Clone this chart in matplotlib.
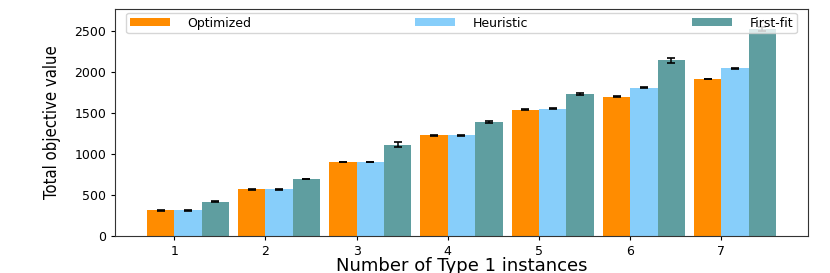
import matplotlib
matplotlib.use("Agg")
import matplotlib.pyplot as plt
import numpy as np

# 数据
n_type1 = [1, 2, 3, 4, 5, 6, 7]
optimized = [313, 569, 902, 1228, 1541, 1699, 1915]
heuristic = [313, 569, 902, 1228, 1553, 1809, 2045]
first_fit = [415, 695, 1113, 1390, 1728, 2143, 2530]
optimized_err = [4, 4, 5, 8, 5, 4, 5]
heuristic_err = [4, 4, 5, 6, 5, 4, 6]
first_fit_err = [5, 5, 30, 8, 12, 30, 25]

fig = plt.figure(figsize=(8.3, 2.73), dpi=100)
ax = fig.add_axes([0.139, 0.136, 0.834, 0.831])

ind = np.array(n_type1, dtype=float)
w = 0.3
err_kw = dict(ecolor="black", capsize=3, elinewidth=1.1, capthick=1.2)
ax.bar(ind - w / 2, optimized, w, yerr=optimized_err, color="darkorange",
       label="Optimized", error_kw=err_kw)
ax.bar(ind + w / 2, heuristic, w, yerr=heuristic_err, color="lightskyblue",
       label="Heuristic", error_kw=err_kw)
ax.bar(ind + 3 * w / 2, first_fit, w, yerr=first_fit_err, color="cadetblue",
       label="First-fit", error_kw=err_kw)

ax.set_ylim(0, 2770)
ax.set_xticks(n_type1)
ax.set_yticks([0, 500, 1000, 1500, 2000, 2500])
ax.tick_params(axis="both", labelsize=9, length=3)
ax.set_xlabel("Number of Type 1 instances", fontsize=13, labelpad=-1)
ax.set_ylabel("Total objective value", fontsize=12, fontstretch="condensed",
              labelpad=10)
for sp in ax.spines.values():
    sp.set_color("#333333")

ax.legend(loc="upper left", bbox_to_anchor=(0.01, 1.0, 0.98, 0.0), mode="expand",
          ncol=3, fontsize=9, handlelength=3.2, handleheight=0.6,
          handletextpad=1.4, borderpad=0.3, borderaxespad=0.3, fancybox=True)

fig.savefig("out.png", dpi=100)
